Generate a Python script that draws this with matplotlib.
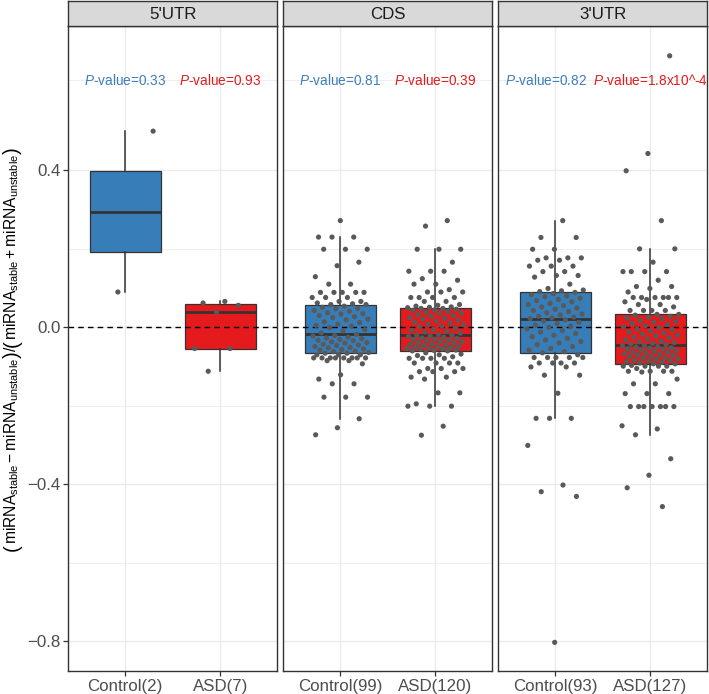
import matplotlib
matplotlib.use('Agg')
import matplotlib.pyplot as plt
import matplotlib.transforms as mtransforms
import numpy as np

plt.rcParams['font.family'] = ['Liberation Sans', 'DejaVu Sans']
plt.rcParams['mathtext.fontset'] = 'custom'
plt.rcParams['mathtext.rm'] = 'Liberation Sans'
plt.rcParams['mathtext.it'] = 'Liberation Sans:italic'
plt.rcParams['mathtext.bf'] = 'Liberation Sans:bold'
plt.rcParams['axes.unicode_minus'] = True

# ---------------- data ----------------
regions = ["5'UTR", "CDS", "3'UTR"]
groups = ["Control", "ASD"]

utr5_control = [0.09, 0.50]
utr5_asd = [0.066, 0.062, 0.056, 0.039, -0.054, -0.054, -0.112]

cds_control = [
    0.272, 0.230, 0.230, 0.230, 0.199, 0.199, 0.199, 0.166, 0.157, 0.129, 0.110, 0.110,
    0.089, 0.089, 0.089, 0.089, 0.089, 0.076, 0.076, 0.076, 0.066, 0.066, 0.062, 0.060,
    0.058, 0.058,
    0.054, 0.051, 0.048, 0.047, 0.043, 0.041, 0.037, 0.035, 0.034, 0.030, 0.027, 0.025,
    0.021, 0.019, 0.014, 0.012, 0.008, 0.005, 0.003, -0.001, -0.006, -0.009, -0.014,
    -0.018,
    -0.021, -0.022, -0.025, -0.027, -0.029, -0.031, -0.033, -0.034, -0.037, -0.039,
    -0.040, -0.043, -0.045, -0.046, -0.049, -0.051, -0.052, -0.055, -0.057, -0.058,
    -0.061, -0.062, -0.064,
    -0.066, -0.066,
    -0.070, -0.070, -0.070, -0.078, -0.078, -0.078, -0.078, -0.078, -0.078, -0.078, -0.078,
    -0.085, -0.085, -0.093, -0.121, -0.132, -0.144, -0.144, -0.178, -0.178, -0.178,
    -0.233, -0.256, -0.274]

cds_asd = [
    0.272, 0.258, 0.199, 0.199, 0.199, 0.166, 0.143, 0.143, 0.143, 0.124, 0.120, 0.110,
    0.110, 0.096, 0.090, 0.090, 0.090, 0.076, 0.076, 0.076, 0.076, 0.066, 0.066, 0.058,
    0.056, 0.054, 0.052, 0.051, 0.050,
    0.048, 0.048,
    0.046, 0.044, 0.043, 0.041, 0.038, 0.036, 0.035, 0.032, 0.030, 0.028, 0.025, 0.023,
    0.021, 0.018, 0.016, 0.013, 0.011, 0.008, 0.006, 0.003, 0.001, -0.002, -0.005,
    -0.007, -0.010, -0.012, -0.015, -0.018,
    -0.020, -0.020,
    -0.022, -0.023, -0.025, -0.027, -0.028, -0.030, -0.031, -0.033, -0.034, -0.036,
    -0.037, -0.039, -0.040, -0.042, -0.043, -0.045, -0.046, -0.048, -0.049, -0.050,
    -0.051, -0.053, -0.054, -0.055, -0.056, -0.058, -0.059,
    -0.060, -0.060,
    -0.065, -0.068, -0.070, -0.072, -0.075, -0.079, -0.079, -0.079, -0.079, -0.091,
    -0.091, -0.091, -0.091, -0.105, -0.105, -0.105, -0.113, -0.113, -0.113, -0.127,
    -0.127, -0.132, -0.167, -0.167, -0.195, -0.201, -0.201, -0.201, -0.252, -0.275]

utr3_control = [
    0.272, 0.229, 0.229, 0.199, 0.199, 0.177, 0.177, 0.177, 0.171, 0.171, 0.156, 0.156,
    0.156, 0.142, 0.142, 0.132, 0.132, 0.128, 0.110, 0.099, 0.095, 0.093, 0.091,
    0.089,
    0.086, 0.083, 0.080, 0.078, 0.074, 0.071, 0.068, 0.065, 0.061, 0.058, 0.055, 0.052,
    0.049, 0.046, 0.043, 0.040, 0.037, 0.034, 0.031, 0.028, 0.026, 0.024,
    0.022,
    0.019, 0.016, 0.013, 0.010, 0.006, 0.003, 0.000, -0.004, -0.008, -0.012, -0.016,
    -0.020, -0.024, -0.028, -0.032, -0.036, -0.040, -0.044, -0.049, -0.054, -0.058, -0.062,
    -0.065,
    -0.070, -0.077, -0.077, -0.077, -0.077, -0.077, -0.091, -0.091, -0.091, -0.091,
    -0.101, -0.101, -0.122, -0.122, -0.168, -0.232, -0.232, -0.232, -0.301, -0.402,
    -0.419, -0.431, -0.803]

utr3_asd = [
    0.692, 0.443, 0.399, 0.272, 0.200, 0.200, 0.166, 0.142, 0.142, 0.142, 0.142, 0.120,
    0.104, 0.104, 0.099, 0.090, 0.076, 0.076, 0.076, 0.076, 0.076, 0.076, 0.071, 0.065,
    0.058, 0.058, 0.052, 0.043, 0.043, 0.043, 0.043,
    0.033, 0.033,
    0.031, 0.028, 0.026, 0.023, 0.021, 0.018, 0.015, 0.013, 0.010, 0.007, 0.004, 0.002,
    -0.001, -0.004, -0.006, -0.009, -0.012, -0.014, -0.017, -0.020, -0.022, -0.025,
    -0.027, -0.030, -0.032, -0.035, -0.037, -0.039, -0.041, -0.043,
    -0.044,
    -0.046, -0.047, -0.049, -0.050, -0.052, -0.053, -0.055, -0.056, -0.058, -0.060,
    -0.061, -0.063, -0.064, -0.066, -0.067, -0.069, -0.070, -0.072, -0.074, -0.075,
    -0.077, -0.078, -0.080, -0.081, -0.083, -0.085, -0.086, -0.088, -0.089, -0.091,
    -0.093, -0.093,
    -0.097, -0.099, -0.099, -0.099, -0.099, -0.105, -0.112, -0.112, -0.112, -0.112,
    -0.114, -0.132, -0.144, -0.144, -0.169, -0.169, -0.169, -0.202, -0.202, -0.202,
    -0.202, -0.202, -0.202, -0.202, -0.251, -0.259, -0.274, -0.335, -0.377, -0.409, -0.457]

values = {
    "5'UTR": [utr5_control, utr5_asd],
    "CDS": [cds_control, cds_asd],
    "3'UTR": [utr3_control, utr3_asd],
}
pvalues = {
    "5'UTR": ["0.33", "0.93"],
    "CDS": ["0.81", "0.39"],
    "3'UTR": ["0.82", "1.8x10^-4"],
}
pvalue_y = 0.63
y_major = [-0.8, -0.4, 0.0, 0.4]
y_major_labels = ["\u22120.8", "\u22120.4", "0.0", "0.4"]
y_minor = [-0.6, -0.2, 0.2, 0.63]

# ---------------- style ----------------
fill_colors = ['#377EB8', '#E41A1C']
text_colors = ['#3B7EBD', '#E41A1C']
line_col = '#333333'
point_col = '#595959'
grid_col = '#EBEBEB'

W, H = 709, 694
fig = plt.figure(figsize=(W / 100, H / 100), dpi=100)
lefts = [68.3, 283.3, 498.3]
pw = 209.0
ptop, pbot = 26.0, 671.0
strip_top = 1.0

def jitter(n, w=0.30, phase=0.37):
    k = np.arange(n)
    return ((k * 0.6180339887 + phase) % 1.0 * 2 - 1) * w

for r, reg in enumerate(regions):
    ax = fig.add_axes([lefts[r] / W, (H - pbot) / H, pw / W, (pbot - ptop) / H])
    sax = fig.add_axes([lefts[r] / W, (H - ptop) / H, pw / W, (ptop - strip_top) / H])

    data = values[reg]
    ax.set_xlim(0.4, 2.6)
    ax.set_ylim(-0.876, 0.768)
    ax.set_axisbelow(True)
    for y in y_minor:
        ax.axhline(y, color=grid_col, lw=0.6, zorder=0)
    for y in y_major:
        ax.axhline(y, color=grid_col, lw=1.0, zorder=0)
    for x in (1, 2):
        ax.axvline(x, color=grid_col, lw=1.0, zorder=0)

    bp = ax.boxplot(data, positions=[1, 2], widths=0.75, patch_artist=True,
                    showfliers=False, showcaps=False, whis=1.5,
                    medianprops=dict(color=line_col, lw=2.0),
                    whiskerprops=dict(color=line_col, lw=1.1),
                    boxprops=dict(edgecolor=line_col, lw=0.9))
    for patch, c in zip(bp['boxes'], fill_colors):
        patch.set_facecolor(c)
        patch.set_zorder(2)

    ax.axhline(0, color='black', lw=1.0, ls=(0, (4, 3)), zorder=3)

    for g, vals in enumerate(data):
        v = np.asarray(vals)
        xs = (g + 1) + jitter(len(v), phase=0.37 + 0.21 * g + 0.13 * r)
        ax.scatter(xs, v, s=14, color=point_col, edgecolors='none', zorder=4)

    px = [1.0, 2.0] if reg != "3'UTR" else [0.9, 2.0]
    for g in range(2):
        ax.text(px[g], pvalue_y, r'$\mathit{P}$-value=' + pvalues[reg][g],
                color=text_colors[g], fontsize=9.8, ha='center', va='center',
                zorder=5, clip_on=False)

    ax.set_xticks([1, 2])
    ax.set_xticklabels([f"{grp}({len(vals)})" for grp, vals in zip(groups, data)])
    ax.tick_params(axis='x', length=3.5, width=0.9, color=line_col,
                   labelcolor='#4D4D4D', labelsize=12.2, pad=2)
    if r == 0:
        ax.set_yticks(y_major)
        ax.set_yticklabels(y_major_labels)
        ax.tick_params(axis='y', length=3.5, width=0.9, color=line_col,
                       labelcolor='#4D4D4D', labelsize=12.2, pad=2)
    else:
        ax.set_yticks([])
    for sp in ax.spines.values():
        sp.set_color(line_col)
        sp.set_linewidth(1.0)
        sp.set_zorder(6)

    sax.set_facecolor('#D9D9D9')
    sax.set_xticks([])
    sax.set_yticks([])
    for sp in sax.spines.values():
        sp.set_color(line_col)
        sp.set_linewidth(1.0)
    sax.text(0.5, 0.47, reg, transform=sax.transAxes, ha='center', va='center',
             fontsize=12.2, color='#1A1A1A')

# ---------------- y label (pieces stacked along the rotated baseline) ----------------
num_part = r'$\mathrm{miRNA}_{\mathrm{stable}} - \mathrm{miRNA}_{\mathrm{unstable}}$'
den_part = r'$\mathrm{miRNA}_{\mathrm{stable}} + \mathrm{miRNA}_{\mathrm{unstable}}$'
pieces = [("(", True), (num_part, False), (")", True), ("/", False),
          ("(", True), (den_part, False), (")", True)]
fs = 11.0
paren_scale = 1.3
label_len = 404.0          # px, target length of the label
label_center = H - 349.0   # display y (origin bottom)
baseline_x = 16.0          # display x of the rotated baseline

ident = mtransforms.IdentityTransform()
renderer = fig.canvas.get_renderer()
tobjs = []
for s, is_paren in pieces:
    t = fig.text(0, 0, s, rotation=90, rotation_mode='anchor', ha='left',
                 va='baseline', fontsize=fs * (paren_scale if is_paren else 1.0),
                 color='black', transform=ident)
    tobjs.append((t, is_paren))
total = sum(t.get_window_extent(renderer).height for t, _ in tobjs)
fs *= label_len / total
for t, is_paren in tobjs:
    t.set_fontsize(fs * (paren_scale if is_paren else 1.0))
lens = [t.get_window_extent(renderer).height for t, _ in tobjs]
ycur = label_center - sum(lens) / 2
for (t, is_paren), L in zip(tobjs, lens):
    shift = 0.12 * fs * 100 / 72 if is_paren else 0.0
    t.set_position((baseline_x + shift, ycur))
    ycur += L

fig.savefig('out.png', dpi=100)
